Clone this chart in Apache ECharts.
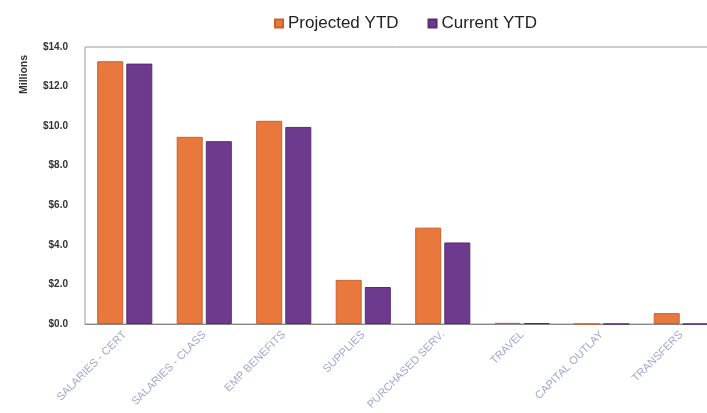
<!DOCTYPE html>
<html>
<head>
<meta charset="utf-8">
<script src="https://cdn.jsdelivr.net/npm/echarts@6/dist/echarts.min.js"></script>
<style>html,body{margin:0;padding:0;background:#fff}#c{width:707px;height:413px}</style>
</head>
<body>
<div id="c"></div>
<script>
var categories = ["SALARIES - CERT", "SALARIES - CLASS", "EMP BENEFITS", "SUPPLIES", "PURCHASED SERV.", "TRAVEL", "CAPITAL OUTLAY", "TRANSFERS"];
var projectedYTD = [13.28, 9.46, 10.27, 2.23, 4.87, 0.06, 0, 0.55];
var currentYTD = [13.16, 9.24, 9.96, 1.87, 4.12, 0.04, 0, 0];
var seriesNames = ["Projected YTD", "Current YTD"];
var yMin = 0, yMax = 14, yStep = 2;

var chart = echarts.init(document.getElementById('c'), null, {renderer: 'canvas'});
chart.setOption({
  animation: false,
  backgroundColor: '#ffffff',
  textStyle: {fontFamily: 'Liberation Sans, Arial, sans-serif'},
  legend: {
    data: seriesNames,
    left: 269, top: 10,
    icon: 'rect', itemWidth: 8, itemHeight: 8, itemGap: 29,
    textStyle: {fontSize: 17, color: '#222', padding: [0, 0, 0, 0]}
  },
  grid: {
    left: 85, top: 47, right: -14, bottom: 89,
    outerBoundsMode: 'none', containLabel: false,
    show: true, borderColor: '#9a9a9a', borderWidth: 1, backgroundColor: 'transparent'
  },
  xAxis: {
    type: 'category', data: categories,
    axisLine: {lineStyle: {color: '#888', width: 1}},
    axisTick: {show: false},
    axisLabel: {rotate: 45, color: '#a4a6cc', fontSize: 11, margin: 9, interval: 0}
  },
  yAxis: {
    type: 'value', min: yMin, max: yMax, interval: yStep,
    splitLine: {show: false},
    axisLine: {show: false}, axisTick: {show: false},
    axisLabel: {
      color: '#333', fontSize: 10, fontWeight: 'bold', margin: 17,
      formatter: function (v) { return '$' + v.toFixed(1); }
    }
  },
  graphic: [{
    type: 'text', x: 24, y: 94, rotation: Math.PI / 2,
    style: {text: 'Millions', fill: '#333', font: 'bold 10.5px Liberation Sans, Arial, sans-serif', textAlign: 'left', textVerticalAlign: 'middle'}
  }],
  series: [{
    name: seriesNames[0], type: 'bar', data: projectedYTD,
    barWidth: 26, barGap: '12%',
    itemStyle: {color: '#e9783c', borderColor: '#c8612d', borderWidth: 1}
  }, {
    name: seriesNames[1], type: 'bar', data: currentYTD,
    barWidth: 26,
    itemStyle: {color: '#6d3a8e', borderColor: '#562c74', borderWidth: 1}
  }]
});
</script>
</body>
</html>
